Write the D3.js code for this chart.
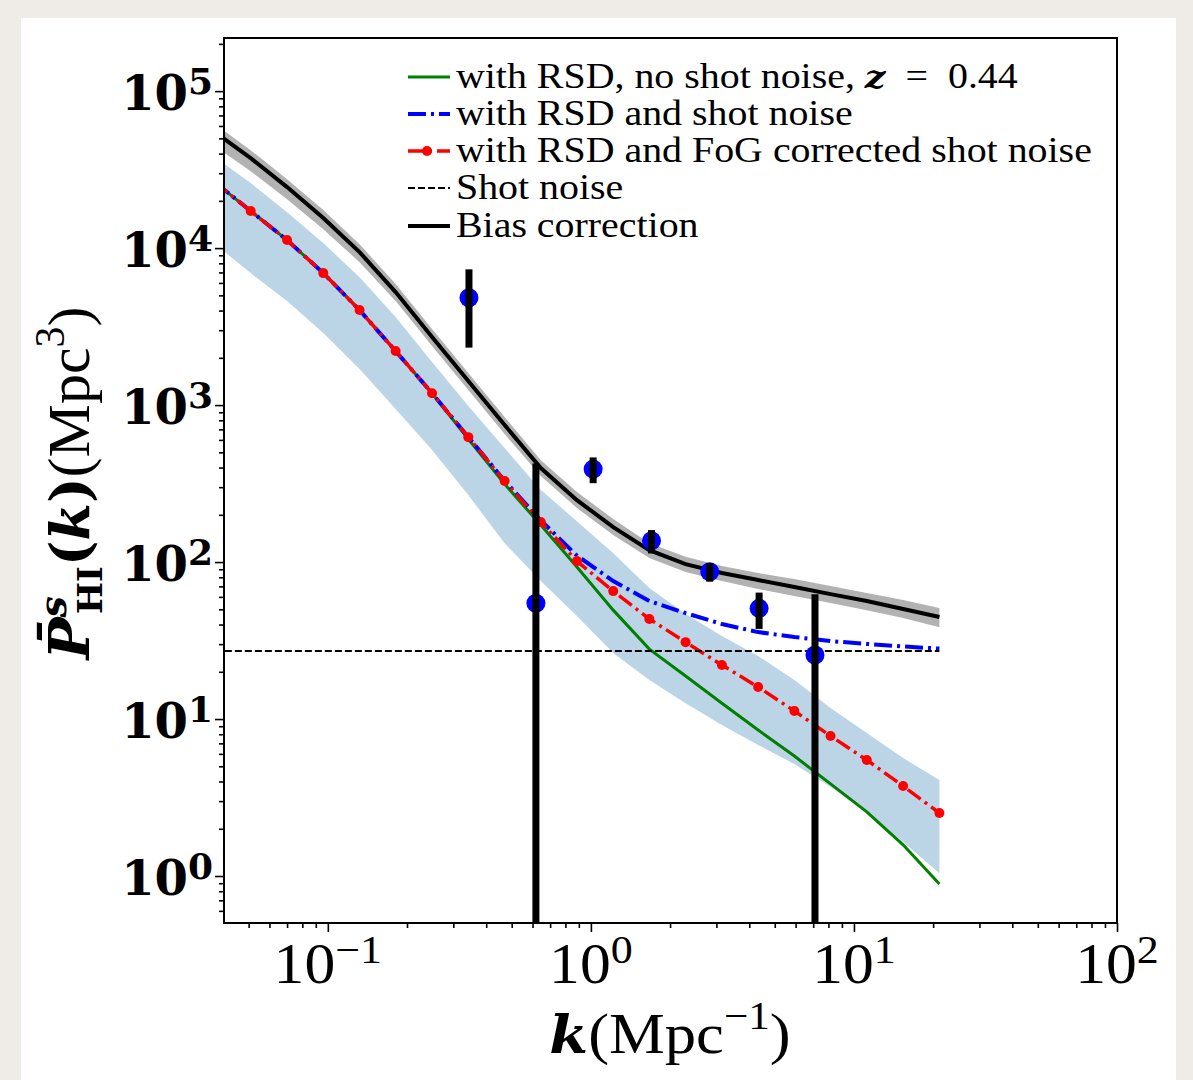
<!DOCTYPE html>
<html>
<head>
<meta charset="utf-8">
<script src="https://cdn.jsdelivr.net/npm/d3@7"></script>
<style>
body { margin: 0; background: #efece7; }
svg { display: block; }
</style>
</head>
<body>
<svg id="chart" width="1193" height="1080"></svg>
<script>
// model k grid (Mpc^-1)
var kModel = [0.0372, 0.0509, 0.0700, 0.0961, 0.132, 0.181, 0.249, 0.342, 0.470, 0.645,
    0.885, 1.216, 1.668, 2.291, 3.148, 4.323, 5.937, 8.149, 11.19, 15.38, 21.13];

// with RSD, no shot noise
var pNoShot = [26300, 17220, 11250, 6930, 4030, 2210, 1190, 607, 314, 172,
    92.9, 49.4, 27.9, 18.8, 12.6, 8.51, 5.81, 3.86, 2.56, 1.58, 0.89];
// with RSD and shot noise
var pShot = [26300, 17220, 11250, 6930, 4030, 2210, 1190, 625, 330, 184,
    110, 75.7, 56.5, 47.3, 40.3, 35.8, 33.3, 31.4, 30.1, 29.0, 28.1];
// with RSD and FoG corrected shot noise
var pFoG = [26300, 17220, 11250, 6930, 4030, 2210, 1190, 625, 328, 180,
    101.4, 65.3, 43.4, 30.9, 22.1, 16.0, 11.25, 7.80, 5.48, 3.74, 2.52];
var shotNoise = 27.1;

// light blue band
var bandHi = [38000, 25950, 16950, 10760, 6530, 3637, 1879, 986, 532, 288,
    182, 114, 68.3, 46.6, 33.8, 25.2, 17.7, 11.75, 8.15, 5.64, 4.09];
var bandLo = [10600, 6930, 4595, 2875, 1695, 943, 517, 267, 132, 75.7,
    45.3, 26.3, 17.7, 12.6, 9.16, 6.83, 5.17, 3.69, 2.56, 1.65, 1.04];

// bias correction line and its grey band
var pBias = [54800, 37400, 24480, 15530, 9430, 5250, 2712, 1422, 746, 397,
    248, 167, 119, 97.1, 85.1, 76.8, 69.3, 62.5, 56.5, 50.2, 44.7];
var biasHi = [61660, 42070, 27500, 17460, 10600, 5900, 3050, 1600, 839, 446,
    279, 188, 132, 108, 94.3, 85.1, 77.9, 70.3, 63.5, 57.3, 50.9];
var biasLo = [44650, 30930, 20510, 13210, 8140, 4595, 2376, 1246, 654, 353,
    221, 149, 106, 86.3, 75.7, 67.3, 60.7, 54.8, 49.4, 44.0, 38.5];

// measured points
var dataK = [0.344, 0.618, 1.02, 1.70, 2.83, 4.36, 7.11];
var dataP = [4823, 54.6, 391, 136.7, 86.7, 50.7, 25.6];
var dataErr = [2500, 370, 73, 23.2, 11.7, 13.2, 36.7];

var legendLabels = ["with RSD, no shot noise, ", "with RSD and shot noise",
    "with RSD and FoG corrected shot noise", "Shot noise", "Bias correction"];

var serif = "'Liberation Serif', 'DejaVu Serif', serif";
var dvSerif = "'DejaVu Serif', serif";

var margin = { left: 224, right: 76, top: 38, bottom: 157 };
var width = 1193 - margin.left - margin.right;
var height = 1080 - margin.top - margin.bottom;

var svg = d3.select("#chart");

// white card over the beige page
svg.append("rect")
    .attr("x", 21).attr("y", 18)
    .attr("width", 1155).attr("height", 1062)
    .attr("fill", "#ffffff");

var x = d3.scaleLog().domain([0.0403, 100]).range([margin.left, margin.left + width]);
var y = d3.scaleLog().domain([0.502, 2.18e5]).range([margin.top + height, margin.top]);

svg.append("clipPath").attr("id", "plotclip")
    .append("rect")
    .attr("x", margin.left).attr("y", margin.top)
    .attr("width", width).attr("height", height);

var plot = svg.append("g").attr("clip-path", "url(#plotclip)");

var idx = d3.range(kModel.length);

function lineOf(arr) {
    return d3.line()
        .x(function (i) { return x(kModel[i]); })
        .y(function (i) { return y(arr[i]); })(idx);
}

// light blue uncertainty band
plot.append("path")
    .attr("d", d3.area()
        .x(function (i) { return x(kModel[i]); })
        .y0(function (i) { return y(bandLo[i]); })
        .y1(function (i) { return y(bandHi[i]); })(idx))
    .attr("fill", "#bcd5e6");

// grey band of bias correction
plot.append("path")
    .attr("d", d3.area()
        .x(function (i) { return x(kModel[i]); })
        .y0(function (i) { return y(biasLo[i]); })
        .y1(function (i) { return y(biasHi[i]); })(idx))
    .attr("fill", "#b2b2b2");

plot.append("path").attr("d", lineOf(pNoShot))
    .attr("fill", "none").attr("stroke", "#008000").attr("stroke-width", 3);

plot.append("path").attr("d", lineOf(pShot))
    .attr("fill", "none").attr("stroke", "#0000ff").attr("stroke-width", 4)
    .attr("stroke-dasharray", "18,5,3,5");

plot.append("path").attr("d", lineOf(pFoG))
    .attr("fill", "none").attr("stroke", "#ff0000").attr("stroke-width", 3.5)
    .attr("stroke-dasharray", "16,5,3,5");

plot.selectAll(".fog-dot")
    .data(idx)
    .enter().append("circle")
    .attr("class", "fog-dot")
    .attr("cx", function (i) { return x(kModel[i]); })
    .attr("cy", function (i) { return y(pFoG[i]); })
    .attr("r", 5)
    .attr("fill", "#ff0000");

// shot noise level
plot.append("line")
    .attr("x1", x(kModel[0])).attr("x2", x(kModel[kModel.length - 1]))
    .attr("y1", y(shotNoise)).attr("y2", y(shotNoise))
    .attr("stroke", "#000").attr("stroke-width", 2)
    .attr("stroke-dasharray", "7,3");

plot.append("path").attr("d", lineOf(pBias))
    .attr("fill", "none").attr("stroke", "#000").attr("stroke-width", 4);

// measured points with error bars
plot.selectAll(".pt")
    .data(dataK)
    .enter().append("circle")
    .attr("class", "pt")
    .attr("cx", function (d) { return x(d); })
    .attr("cy", function (d, i) { return y(dataP[i]); })
    .attr("r", 9.5)
    .attr("fill", "#0000ff");

plot.selectAll(".err")
    .data(dataK)
    .enter().append("line")
    .attr("class", "err")
    .attr("x1", function (d) { return x(d); })
    .attr("x2", function (d) { return x(d); })
    .attr("y1", function (d, i) { return y(dataP[i] + dataErr[i]); })
    .attr("y2", function (d, i) {
        var lo = dataP[i] - dataErr[i];
        return lo > 0 ? y(lo) : margin.top + height + 5;
    })
    .attr("stroke", "#000").attr("stroke-width", 7);

// frame
svg.append("rect")
    .attr("x", margin.left).attr("y", margin.top)
    .attr("width", width).attr("height", height)
    .attr("fill", "none").attr("stroke", "#000").attr("stroke-width", 2);

// ticks
var xMajor = [0.1, 1, 10, 100];
var xMinor = x.ticks().filter(function (d) {
    var l = Math.log10(d); return Math.abs(l - Math.round(l)) > 1e-6;
});
var yMinor = y.ticks().filter(function (d) {
    var l = Math.log10(d); return Math.abs(l - Math.round(l)) > 1e-6;
});
var yMajor = [1, 10, 100, 1000, 1e4, 1e5];

var xAxisGroup = svg.append("g").attr("transform", "translate(0," + (margin.top + height) + ")");
xAxisGroup.call(d3.axisBottom(x).tickValues(xMajor).tickSize(9).tickFormat(""));
xAxisGroup.append("g").call(d3.axisBottom(x).tickValues(xMinor).tickSize(5).tickFormat(""));
xAxisGroup.selectAll(".domain").remove();
xAxisGroup.selectAll("line").attr("stroke-width", 1.6);

var yAxisGroup = svg.append("g").attr("transform", "translate(" + margin.left + ",0)");
yAxisGroup.call(d3.axisLeft(y).tickValues(yMajor).tickSize(9).tickFormat(""));
yAxisGroup.append("g").call(d3.axisLeft(y).tickValues(yMinor).tickSize(5).tickFormat(""));
yAxisGroup.selectAll(".domain").remove();
yAxisGroup.selectAll("line").attr("stroke-width", 1.6);

// tick labels
var xExp = ["\u22121", "0", "1", "2"];
xMajor.forEach(function (v, i) {
    var t = svg.append("text")
        .attr("x", x(v)).attr("y", margin.top + height + 60)
        .attr("text-anchor", "middle")
        .attr("font-family", serif).attr("font-size", 56)
        .attr("transform", "translate(" + x(v) + ",0) scale(1.1,1) translate(" + (-x(v)) + ",0)")
        .attr("fill", "#000");
    t.append("tspan").text("10");
    t.append("tspan").attr("dy", -20).attr("font-size", 40).text(xExp[i]);
});

yMajor.forEach(function (v, i) {
    var t = svg.append("text")
        .attr("x", 213).attr("y", y(v) + 19)
        .attr("text-anchor", "end")
        .attr("font-family", dvSerif).attr("font-weight", "bold").attr("font-size", 48)
        .attr("fill", "#000");
    t.append("tspan").text("10");
    t.append("tspan").attr("dy", -16).attr("font-size", 36).text(i);
});

// axis labels
var xl = svg.append("text")
    .attr("x", 670).attr("y", 1053)
    .attr("text-anchor", "middle")
    .attr("font-family", serif).attr("font-size", 58).attr("fill", "#000")
    .attr("transform", "translate(670,0) scale(1.08,1) translate(-670,0)");
xl.append("tspan").attr("font-family", dvSerif).attr("font-weight", "bold")
    .attr("font-style", "italic").attr("font-size", 52).text("k");
xl.append("tspan").text("(Mpc");
xl.append("tspan").attr("dy", -24).attr("font-size", 40).text("\u22121");
xl.append("tspan").attr("dy", 24).text(")");

var yl = svg.append("text")
    .attr("transform", "translate(89,483) rotate(-90)")
    .attr("text-anchor", "middle")
    .attr("font-family", serif).attr("font-size", 60).attr("fill", "#000");
yl.append("tspan").attr("font-family", dvSerif).attr("font-weight", "bold")
    .attr("font-style", "italic").attr("font-size", 56).text("P\u0304");
yl.append("tspan").attr("font-family", dvSerif).attr("font-weight", "bold")
    .attr("font-style", "italic").attr("font-size", 38).attr("dy", -23).text("s");
yl.append("tspan").attr("font-family", dvSerif).attr("font-weight", "bold")
    .attr("font-size", 34).attr("dx", -18).attr("dy", 36).text("HI");
yl.append("tspan").attr("font-family", dvSerif).attr("font-weight", "bold")
    .attr("font-size", 54).attr("dy", -13).text("(");
yl.append("tspan").attr("font-family", dvSerif).attr("font-weight", "bold")
    .attr("font-style", "italic").attr("font-size", 54).text("k");
yl.append("tspan").attr("font-family", dvSerif).attr("font-weight", "bold")
    .attr("font-size", 54).text(")");
yl.append("tspan").text("(Mpc");
yl.append("tspan").attr("dy", -25).attr("font-size", 42).text("3");
yl.append("tspan").attr("dy", 25).text(")");

// legend
var legend = svg.append("g");
var rowY = [77, 114, 151, 188, 226];
var hx0 = 408, hx1 = 450, tx = 456;

function legendText(i) {
    return legend.append("text")
        .attr("x", tx).attr("y", rowY[i] + 11)
        .attr("font-family", serif).attr("font-size", 35).attr("fill", "#000")
        .attr("transform", "translate(" + tx + ",0) scale(1.14,1) translate(" + (-tx) + ",0)");
}

legend.append("line").attr("x1", hx0).attr("x2", hx1).attr("y1", rowY[0]).attr("y2", rowY[0])
    .attr("stroke", "#008000").attr("stroke-width", 3);
var t0 = legendText(0);
t0.append("tspan").text(legendLabels[0]);
t0.append("tspan").attr("font-family", dvSerif).attr("font-weight", "bold")
    .attr("font-style", "italic").attr("font-size", 32).text("z");
t0.append("tspan").text("\u2002=\u20020.44");

legend.append("line").attr("x1", hx0).attr("x2", hx1).attr("y1", rowY[1]).attr("y2", rowY[1])
    .attr("stroke", "#0000ff").attr("stroke-width", 4).attr("stroke-dasharray", "18,5,3,5");
legendText(1).text(legendLabels[1]);

legend.append("line").attr("x1", hx0).attr("x2", hx1).attr("y1", rowY[2]).attr("y2", rowY[2])
    .attr("stroke", "#ff0000").attr("stroke-width", 3.5).attr("stroke-dasharray", "16,5,3,5");
legend.append("circle").attr("cx", (hx0 + hx1) / 2 - 2).attr("cy", rowY[2]).attr("r", 5)
    .attr("fill", "#ff0000");
legendText(2).text(legendLabels[2]);

legend.append("line").attr("x1", hx0).attr("x2", hx1).attr("y1", rowY[3]).attr("y2", rowY[3])
    .attr("stroke", "#000").attr("stroke-width", 2).attr("stroke-dasharray", "7,3");
legendText(3).text(legendLabels[3]);

legend.append("line").attr("x1", hx0).attr("x2", hx1).attr("y1", rowY[4]).attr("y2", rowY[4])
    .attr("stroke", "#000").attr("stroke-width", 4);
legendText(4).text(legendLabels[4]);
</script>
</body>
</html>
